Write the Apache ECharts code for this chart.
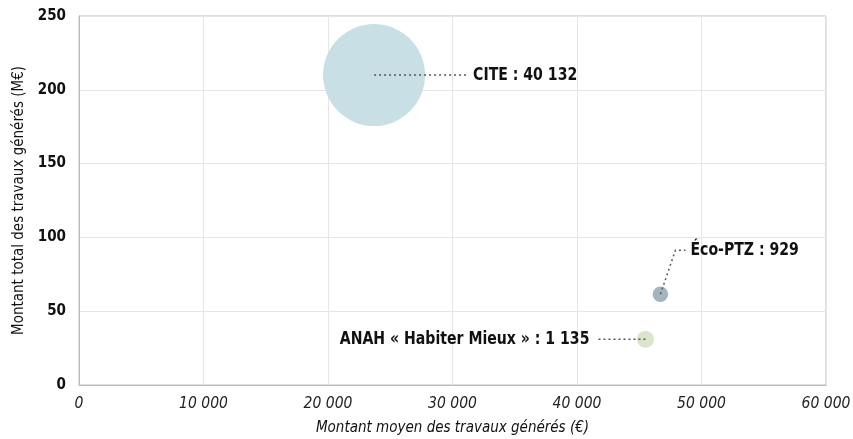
<!DOCTYPE html>
<html>
<head>
<meta charset="utf-8">
<script src="https://cdn.jsdelivr.net/npm/echarts@6/dist/echarts.min.js"></script>
<style>
  html, body { margin: 0; padding: 0; background: #fff; }
  #chart { width: 853px; height: 439px; }
</style>
</head>
<body>
<div id="chart"></div>
<script>
// data
const names = ['CITE', 'Éco-PTZ', 'ANAH « Habiter Mieux »'];
const counts = [40132, 929, 1135];          // bubble size = number of operations
const avgAmount = [23700, 46700, 45500];    // x : montant moyen (€)
const totalAmount = [210, 61.5, 31];        // y : montant total (M€)
const colors = ['#c8e0e5', '#a3b6c0', '#dbe5cc'];

// leader line shapes (pixel offsets from the bubble centre) and label anchor
const leaders = [
  { pts: [[0, 0], [94, 0]], text: [99, 0], align: 'left' },
  { pts: [[0, 0], [15, -44], [25, -44]], text: [30, -44], align: 'left' },
  { pts: [[0, 0], [-48, 0]], text: [-56, 0], align: 'right' }
];

const FONT = "'Liberation Sans Narrow', 'DejaVu Sans Condensed', sans-serif";
const maxSize = 102;

function fmt(n) {
  return String(n).replace(/\B(?=(\d{3})+(?!\d))/g, '\u00a0');
}

const points = names.map((n, i) => ({
  name: n,
  value: [avgAmount[i], totalAmount[i], counts[i]],
  symbolSize: Math.sqrt(counts[i] / counts[0]) * maxSize,
  itemStyle: { color: colors[i] }
}));

const chart = echarts.init(document.getElementById('chart'));
chart.setOption({
  animation: false,
  grid: {
    left: 79, right: 27, top: 16, bottom: 54,
    outerBoundsMode: 'none',
    show: true, borderColor: '#bbb', borderWidth: 1
  },
  xAxis: {
    type: 'value', min: 0, max: 60000, interval: 10000,
    name: 'Montant moyen des travaux générés (€)',
    nameLocation: 'middle', nameGap: 36,
    nameTextStyle: { fontFamily: FONT, fontSize: 15, fontStyle: 'italic', color: '#111' },
    axisLine: { show: true, lineStyle: { color: '#bbb' } },
    axisTick: { show: false },
    axisLabel: {
      fontFamily: FONT, fontSize: 15.5, fontStyle: 'italic', color: '#222',
      margin: 11, formatter: fmt
    },
    splitLine: { show: true, lineStyle: { color: '#e6e6e6' } }
  },
  yAxis: {
    type: 'value', min: 0, max: 250, interval: 50,
    name: 'Montant total des travaux générés (M€)',
    nameLocation: 'middle', nameGap: 52,
    nameTextStyle: { fontFamily: FONT, fontSize: 15, color: '#111' },
    axisLine: { show: true, lineStyle: { color: '#bbb' } },
    axisTick: { show: false },
    axisLabel: {
      fontFamily: FONT, fontSize: 15, fontWeight: 'bold', color: '#111', margin: 13
    },
    splitLine: { show: true, lineStyle: { color: '#e6e6e6' } }
  },
  series: [
    {
      type: 'scatter',
      data: points,
      itemStyle: { opacity: 1 },
      z: 2
    },
    {
      type: 'custom',
      z: 3,
      data: names.map((n, i) => [avgAmount[i], totalAmount[i]]),
      renderItem: function (params, api) {
        const i = params.dataIndex;
        const c = api.coord([api.value(0), api.value(1)]);
        const L = leaders[i];
        return {
          type: 'group',
          children: [
            {
              type: 'polyline',
              shape: { points: L.pts.map(p => [c[0] + p[0], c[1] + p[1]]) },
              style: { stroke: '#555', lineWidth: 1.5, lineDash: [2, 3], fill: null }
            },
            {
              type: 'text',
              x: c[0] + L.text[0], y: c[1] + L.text[1],
              scaleX: 0.87,
              style: {
                text: names[i] + ' : ' + fmt(counts[i]),
                fontFamily: FONT, fontSize: 18, fontWeight: 'bold', fill: '#111',
                align: L.align, verticalAlign: 'middle'
              }
            }
          ]
        };
      }
    }
  ]
});
</script>
</body>
</html>
